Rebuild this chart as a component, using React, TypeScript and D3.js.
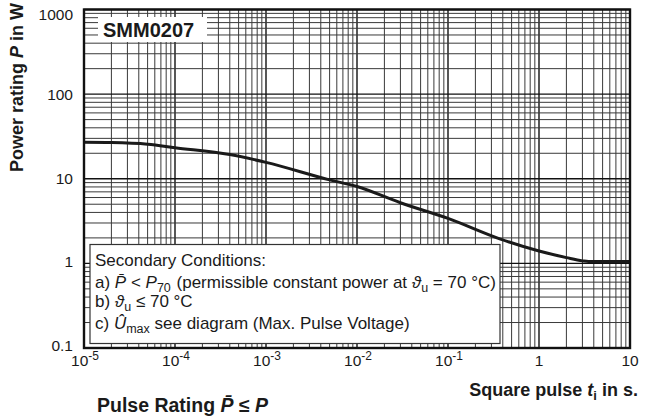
import React from "react";
import * as d3 from "d3";

// pulse duration t_i in s
const pulseTimes = [1e-5, 2e-5, 5e-5, 1e-4, 4e-4, 1e-3, 5e-3, 1e-2, 3e-2, 1e-1, 0.37, 1, 2, 3, 3.5, 10];
// power rating P in W
const powerRating = [27, 26.8, 25.6, 23.3, 19.3, 15.6, 9.7, 8.1, 5.2, 3.4, 1.95, 1.4, 1.17, 1.07, 1.05, 1.05];

const xTickExps = [-5, -4, -3, -2, -1, 0, 1];
const yTickLabels = ["0.1", "1", "10", "100", "1000"];
const yTickValues = [0.1, 1, 10, 100, 1000];

const W = 649;
const H = 418;
const X0 = 84, X1 = 630, Y0 = 9.5, Y1 = 348;
const FONT = "Arial, 'Liberation Sans', Helvetica, sans-serif";

export default function App() {
  const x = d3.scaleLog().domain([1e-5, 10]).range([X0, X1]);
  const y = d3.scaleLog().domain([0.1, 1000]).range([Y1, Y0]);

  const vLines: { v: number; major: boolean }[] = [];
  for (let e = -5; e <= 0; e++) {
    for (let m = 1; m <= 9; m++) vLines.push({ v: m * Math.pow(10, e), major: m === 1 });
  }
  vLines.push({ v: 10, major: true });
  const hLines: { v: number; major: boolean }[] = [];
  for (let e = -1; e <= 2; e++) {
    for (let m = 1; m <= 9; m++) hLines.push({ v: m * Math.pow(10, e), major: m === 1 });
  }
  hLines.push({ v: 1000, major: true });

  const data = pulseTimes.map((t, i) => [t, powerRating[i]] as [number, number]);
  const line = d3
    .line<[number, number]>()
    .x((d) => x(d[0]))
    .y((d) => y(d[1]))
    .curve(d3.curveMonotoneX);

  const fmtX = (e: number) => (e === 0 ? "1" : e === 1 ? "10" : null);
  const yLabelOffset = (v: number) => (v === 1000 ? 20 - y(v) : v === 0.1 ? 351 - y(v) : v === 1 ? 3.8 : 5.5);

  return (
    <svg
      width={W}
      height={H}
      style={{ position: "absolute", left: 0, top: 0, background: "#fff" }}
      fontFamily={FONT}
    >
      <rect x={0} y={0} width={W} height={H} fill="#fff" />
      {/* grid */}
      <g>
        {vLines.map((l, i) => (
          <line
            key={"v" + i}
            x1={x(l.v)}
            x2={x(l.v)}
            y1={Y0}
            y2={Y1}
            stroke={l.major ? "#111" : "#3a3a3a"}
            strokeWidth={l.major ? 1.4 : 1}
          />
        ))}
        {hLines.map((l, i) => (
          <line
            key={"h" + i}
            x1={X0}
            x2={X1}
            y1={y(l.v)}
            y2={y(l.v)}
            stroke={l.major ? "#111" : "#3a3a3a"}
            strokeWidth={l.major ? 1.4 : 1}
          />
        ))}
      </g>
      {/* curve */}
      <path d={line(data) || ""} fill="none" stroke="#1a1a1a" strokeWidth={3} />

      {/* SMM0207 label */}
      <rect x={98} y={17} width={109} height={25} fill="#fff" />
      <text x={103} y={37} fontSize={20} fontWeight="bold" fill="#1a1a1a">
        SMM0207
      </text>

      {/* Secondary conditions box */}
      <rect x={90} y={244.5} width={410} height={99} fill="#fff" stroke="#333" strokeWidth={1.2} />
      <g fontSize={17} fill="#1a1a1a">
        <text x={95} y={266}>Secondary Conditions:</text>
        <text x={95} y={288}>
          <tspan>a) </tspan>
          <tspan fontStyle="italic">P̄</tspan>
          <tspan> &lt; </tspan>
          <tspan fontStyle="italic">P</tspan>
          <tspan dy={4} fontSize={12.5}>70</tspan>
          <tspan dy={-4} dx={1}> (permissible constant power at </tspan>
          <tspan fontStyle="italic">ϑ</tspan>
          <tspan dy={4} fontSize={12.5}>u</tspan>
          <tspan dy={-4}> = 70 °C)</tspan>
        </text>
        <text x={95} y={307}>
          <tspan>b) </tspan>
          <tspan fontStyle="italic">ϑ</tspan>
          <tspan dy={4} fontSize={12.5}>u</tspan>
          <tspan dy={-4}> ≤ 70 °C</tspan>
        </text>
        <text x={95} y={329}>
          <tspan>c) </tspan>
          <tspan fontStyle="italic">Û</tspan>
          <tspan dy={4} fontSize={12.5}>max</tspan>
          <tspan dy={-4}> see diagram (Max. Pulse Voltage)</tspan>
        </text>
      </g>

      {/* frame */}
      <rect x={X0} y={Y0} width={X1 - X0} height={Y1 - Y0} fill="none" stroke="#111" strokeWidth={2.4} />

      {/* y tick labels */}
      <g fontSize={15.5} fill="#1a1a1a" textAnchor="end">
        {yTickValues.map((v, i) => (
          <text key={i} x={73} y={y(v) + yLabelOffset(v)}>
            {yTickLabels[i]}
          </text>
        ))}
      </g>
      {/* x tick labels */}
      <g fontSize={15.5} fill="#1a1a1a" textAnchor="middle">
        {xTickExps.map((e) => {
          const s = fmtX(e);
          return s ? (
            <text key={e} x={x(Math.pow(10, e))} y={366}>
              {s}
            </text>
          ) : (
            <text key={e} x={x(Math.pow(10, e)) + 1} y={366}>
              10
              <tspan dy={-6} fontSize={12}>
                {String(e)}
              </tspan>
            </text>
          );
        })}
      </g>

      {/* axis titles */}
      <text
        transform={`translate(23, 3) rotate(-90)`}
        textAnchor="end"
        fontSize={18}
        fontWeight="bold"
        fill="#1a1a1a"
      >
        Power rating <tspan fontStyle="italic">P</tspan> in W
      </text>
      <text x={638} y={396} textAnchor="end" fontSize={18} fontWeight="bold" fill="#1a1a1a">
        Square pulse <tspan fontStyle="italic">t</tspan>
        <tspan dy={4} fontSize={13}>i</tspan>
        <tspan dy={-4}> in s.</tspan>
      </text>
      <text x={97} y={412} fontSize={19.5} fontWeight="bold" fill="#1a1a1a">
        Pulse Rating <tspan fontStyle="italic">P̄</tspan> ≤ <tspan fontStyle="italic">P</tspan>
      </text>
    </svg>
  );
}
